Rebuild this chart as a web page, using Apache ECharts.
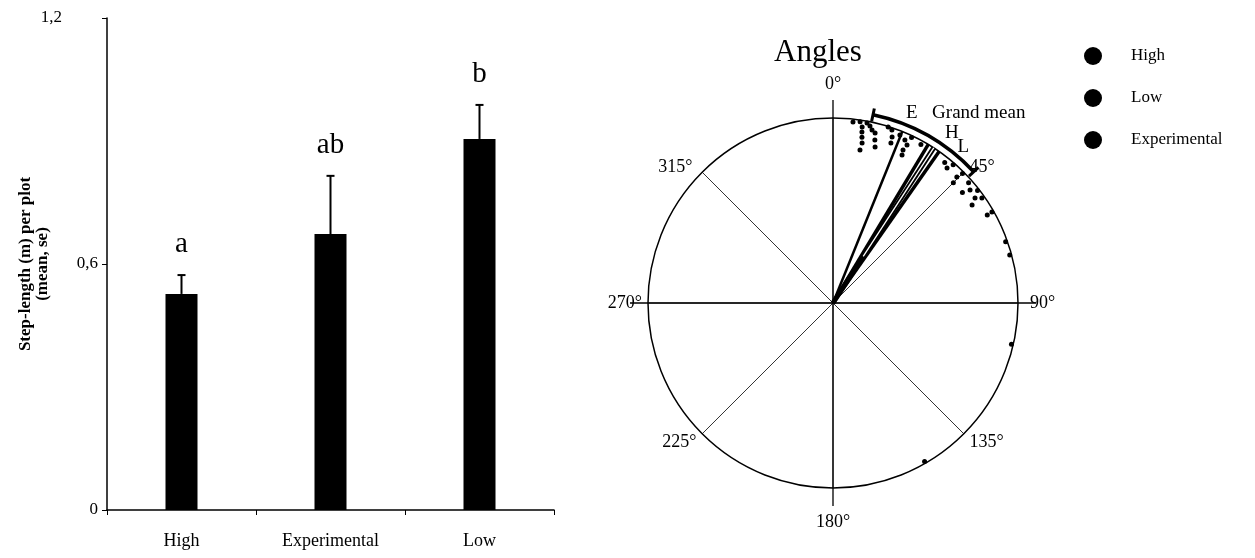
<!DOCTYPE html>
<html><head><meta charset="utf-8">
<script src="https://cdn.jsdelivr.net/npm/echarts@6/dist/echarts.min.js"></script>
<style>html,body{margin:0;padding:0;background:#fff}#c{width:1255px;height:558px}</style>
</head><body><div id="c"></div>
<script>
// ---------- bar chart data ----------
const categories = ['High', 'Experimental', 'Low'];
const stepMeans = [0.527, 0.673, 0.905];
const stepSE = [0.046, 0.142, 0.083];
const sigLetters = ['a', 'ab', 'b'];
const yTickValues = [0, 0.6, 1.2];

// ---------- circular plot data: [radius (fraction of circle), angle in degrees] ----------
const highDots = [[0.997, 17.4], [0.988, 18.8], [0.952, 19.6], [0.92, 19.9], [0.978, 21.7], [0.963, 23.8],
  [0.943, 25.1], [0.909, 24.6], [0.883, 25], [0.99, 25.4], [0.98, 29], [0.97, 38.5], [0.955, 40.2], [0.99, 41]];
const lowDots = [[0.955, 44.5], [0.92, 45], [0.99, 45], [0.98, 48.4], [0.96, 50.5], [0.92, 49.5], [0.99, 52.1],
  [0.985, 54.8], [0.955, 53.5], [0.92, 54.8], [0.99, 60.2], [0.96, 60.3], [0.99, 70.5], [0.99, 74.8], [0.99, 103], [0.99, 150]];
const expDots = [[0.984, 6.3], [0.99, 8.5], [0.99, 10.7], [0.964, 9.4], [0.937, 9.6], [0.91, 9.9], [0.879, 10.3],
  [0.84, 10], [0.977, 11.8], [0.959, 12.7], [0.947, 13.9], [0.91, 14.4], [0.873, 15.1]];
const vectorNames = ['E', 'H', 'L', 'Grand mean'];
const vectorAngles = [22, 31, 35, 33];
const vectorLengths = [1, 1, 1, 1];
const grandMeanCI = [12, 47];
const grandMeanCIRadius = 1.04;
const angleLabels = [0, 45, 90, 135, 180, 225, 270, 315];

const FONT = 'Liberation Serif';
const chart = echarts.init(document.getElementById('c'));

const labelOffsets = { 'E': [1.11, 0.6, 'center'], 'H': [1.12, 4, 'center'], 'L': [1.10, 4.8, 'center'], 'Grand mean': [1.16, -5.5, 'left'] };
const anglePad = { 0: [0, 0, 31, 0], 45: [0, 0, 0, 10], 90: [0, 0, 0, 18], 135: [4, 0, 0, 10], 180: [31, 0, 0, 0], 225: [4, 10, 0, 0], 270: [0, 12, 0, 0], 315: [0, 14, 0, 0] };
const angleRich = {};
angleLabels.forEach(a => { angleRich['a' + a] = { fontFamily: 'Liberation Serif', fontSize: 18, color: '#000', padding: anglePad[a] }; });

const option = {
  backgroundColor: '#fff',
  animation: false,
  title: { text: 'Angles', left: 769, top: 32, textStyle: { fontFamily: FONT, fontSize: 31, fontWeight: 'normal', color: '#000' } },
  legend: {
    orient: 'vertical', left: 1079, top: 42, itemWidth: 18, itemHeight: 18, itemGap: 24, icon: 'circle',
    data: ['High', 'Low', 'Experimental'],
    textStyle: { fontFamily: FONT, fontSize: 17, color: '#000', padding: [0, 0, 0, 24] }
  },
  grid: { left: 107, top: 18, width: 447, height: 492 },
  xAxis: {
    type: 'category', data: categories,
    axisLine: { lineStyle: { color: '#000', width: 1.5 } },
    axisTick: { show: true, length: 5, lineStyle: { color: '#000' } },
    axisLabel: { color: '#000', fontFamily: FONT, fontSize: 18, margin: 22 }
  },
  yAxis: {
    type: 'value', min: 0, max: 1.2, interval: 0.6,
    name: 'Step-length (m) per plot\n(mean, se)', nameLocation: 'middle', nameGap: 56, nameMoveOverlap: false,
    nameTextStyle: { fontFamily: FONT, fontSize: 17, fontWeight: 'bold', color: '#000', lineHeight: 17 },
    axisLine: { show: true, lineStyle: { color: '#000', width: 1.5 } },
    axisTick: { show: true, length: 5, lineStyle: { color: '#000' } },
    splitLine: { show: false },
    axisLabel: {
      color: '#000', fontFamily: FONT, fontSize: 17, margin: 9,
      formatter: v => {
        if (yTickValues.indexOf(v) < 0) return '';
        const s = String(v).replace('.', ',');
        return v === 1.2 ? '{far|' + s + '}' : s;
      },
      rich: { far: { fontFamily: FONT, fontSize: 17, color: '#000', padding: [0, 36, 0, 0] } }
    }
  },
  polar: [
    { center: [833, 303], radius: 185 },
    { center: [833, 303], radius: 185 }
  ],
  angleAxis: [
    {
      polarIndex: 0, type: 'value', min: 0, max: 360, interval: 45, startAngle: 90, clockwise: true,
      axisLine: { show: true, lineStyle: { color: '#000', width: 1.5 } },
      axisTick: { show: false },
      splitLine: { show: true, lineStyle: { color: '#000', width: 0.8 } },
      axisLabel: {
        color: '#000', fontFamily: FONT, fontSize: 18, margin: -6,
        formatter: v => angleLabels.indexOf(v) >= 0 ? '{a' + v + '|' + v + '°}' : '',
        rich: angleRich
      }
    },
    {
      polarIndex: 1, type: 'value', min: 0, max: 360, interval: 90, startAngle: 90, clockwise: true,
      axisLine: { show: false },
      axisTick: { show: true, length: 18, lineStyle: { color: '#000', width: 1.3 } },
      splitLine: { show: true, lineStyle: { color: '#000', width: 1.3 } },
      axisLabel: { show: false }
    }
  ],
  radiusAxis: [
    { polarIndex: 0, min: 0, max: 1, axisLine: { show: false }, axisTick: { show: false }, axisLabel: { show: false }, splitLine: { show: false } },
    { polarIndex: 1, min: 0, max: 1, axisLine: { show: false }, axisTick: { show: false }, axisLabel: { show: false }, splitLine: { show: false } }
  ],
  series: [
    {
      type: 'bar', data: stepMeans, barWidth: 32, itemStyle: { color: '#000' }, z: 3
    },
    {
      type: 'custom', z: 4,
      data: stepMeans.map((m, i) => [i, m, stepSE[i]]),
      renderItem: (params, api) => {
        const i = api.value(0), m = api.value(1), se = api.value(2);
        const base = api.coord([i, m]);
        const top = api.coord([i, m + se]);
        return {
          type: 'group', children: [
            { type: 'line', shape: { x1: base[0], y1: base[1], x2: top[0], y2: top[1] }, style: { stroke: '#000', lineWidth: 2 } },
            { type: 'line', shape: { x1: top[0] - 4, y1: top[1], x2: top[0] + 4, y2: top[1] }, style: { stroke: '#000', lineWidth: 2 } },
            { type: 'text', x: top[0], y: top[1] - 16, style: { text: sigLetters[i], fontFamily: FONT, fontSize: 29, fill: '#000', align: 'center', verticalAlign: 'bottom' } }
          ]
        };
      }
    },
    { name: 'High', type: 'scatter', coordinateSystem: 'polar', polarIndex: 0, data: highDots, symbolSize: 5, itemStyle: { color: '#000', opacity: 1 }, z: 5 },
    { name: 'Low', type: 'scatter', coordinateSystem: 'polar', polarIndex: 0, data: lowDots, symbolSize: 5, itemStyle: { color: '#000', opacity: 1 }, z: 5 },
    { name: 'Experimental', type: 'scatter', coordinateSystem: 'polar', polarIndex: 0, data: expDots, symbolSize: 5, itemStyle: { color: '#000', opacity: 1 }, z: 5 },
    {
      type: 'custom', coordinateSystem: 'polar', polarIndex: 0, z: 6,
      data: vectorAngles.map((a, i) => [vectorLengths[i], a, i]),
      renderItem: (params, api) => {
        const len = api.value(0), a = api.value(1), i = api.value(2);
        const name = vectorNames[i];
        const p0 = api.coord([0, a]);
        const p1 = api.coord([len, a]);
        const lo = labelOffsets[name];
        const tp = api.coord([lo[0], a + lo[1]]);
        const children = [];
        if (name === 'Grand mean') {
          children.push({ type: 'line', shape: { x1: p0[0], y1: p0[1], x2: p1[0], y2: p1[1] }, style: { stroke: '#000', lineWidth: 5 } });
          children.push({ type: 'line', shape: { x1: p0[0] + (p1[0] - p0[0]) * 0.3, y1: p0[1] + (p1[1] - p0[1]) * 0.3, x2: p1[0], y2: p1[1] }, style: { stroke: '#fff', lineWidth: 1.3 } });
        } else {
          children.push({ type: 'line', shape: { x1: p0[0], y1: p0[1], x2: p1[0], y2: p1[1] }, style: { stroke: '#000', lineWidth: name === 'E' ? 2.5 : 3.5 } });
        }
        children.push({ type: 'text', x: tp[0], y: tp[1], style: { text: name, fontFamily: FONT, fontSize: 19, fill: '#000', align: lo[2], verticalAlign: 'middle' } });
        return { type: 'group', children };
      }
    },
    {
      type: 'custom', coordinateSystem: 'polar', polarIndex: 0, z: 6,
      data: [[grandMeanCIRadius, grandMeanCI[0], grandMeanCI[1]]],
      renderItem: (params, api) => {
        const r = api.value(0), a0 = api.value(1), a1 = api.value(2);
        const c = api.coord([0, a0]);
        const p = api.coord([r, a0]);
        const R = Math.hypot(p[0] - c[0], p[1] - c[1]);
        const capA0 = [api.coord([r - 0.035, a0]), api.coord([r + 0.035, a0])];
        const capA1 = [api.coord([r - 0.035, a1]), api.coord([r + 0.035, a1])];
        return {
          type: 'group', children: [
            { type: 'arc', shape: { cx: c[0], cy: c[1], r: R, startAngle: (a0 - 90) * Math.PI / 180, endAngle: (a1 - 90) * Math.PI / 180, clockwise: true }, style: { stroke: '#000', fill: null, lineWidth: 3.5 } },
            { type: 'line', shape: { x1: capA0[0][0], y1: capA0[0][1], x2: capA0[1][0], y2: capA0[1][1] }, style: { stroke: '#000', lineWidth: 3 } },
            { type: 'line', shape: { x1: capA1[0][0], y1: capA1[0][1], x2: capA1[1][0], y2: capA1[1][1] }, style: { stroke: '#000', lineWidth: 3 } }
          ]
        };
      }
    }
  ]
};
chart.setOption(option);
</script>
</body></html>
